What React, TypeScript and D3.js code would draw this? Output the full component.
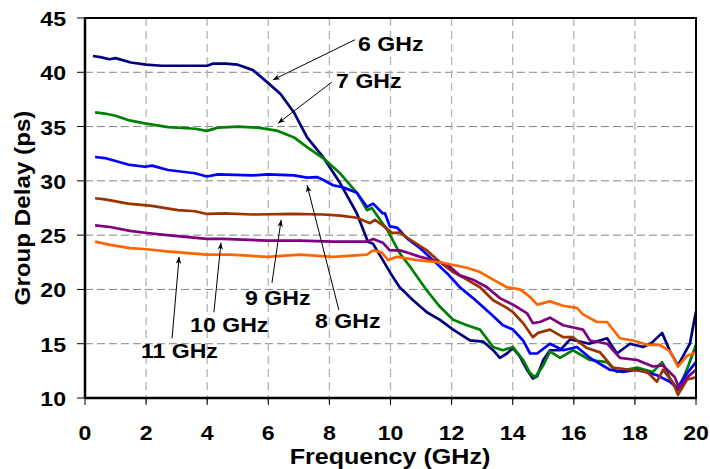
import React from "react";
import * as d3 from "d3";

// group delay traces, [frequency GHz, delay ps]
const f6: [number, number][] = [
  [0.26, 41.5], [0.5, 41.4], [0.8, 41.2], [1.0, 41.3], [1.5, 40.9], [2.0, 40.7], [2.5, 40.6], [3.0, 40.6],
  [3.5, 40.6], [4.0, 40.6], [4.2, 40.8], [4.6, 40.8], [5.0, 40.7], [5.5, 40.2], [6.0, 39.0], [6.4, 38.0],
  [6.84, 36.3], [7.27, 34.0], [7.79, 32.2], [8.35, 29.8], [8.9, 27.0], [9.26, 24.4], [9.43, 24.2], [9.75, 22.7],
  [10.0, 21.5], [10.3, 20.2], [10.74, 19.0], [11.19, 17.9], [11.62, 17.2], [12.05, 16.3], [12.6, 15.3], [13.03, 15.2],
  [13.36, 14.4], [13.58, 13.7], [13.81, 14.1], [14.01, 14.6], [14.24, 13.8], [14.47, 12.6], [14.66, 11.8], [14.8, 12.0],
  [15.0, 13.5], [15.22, 14.4], [15.55, 14.4], [15.88, 15.4], [16.2, 15.2], [16.5, 15.0], [17.09, 15.5], [17.41, 14.1],
  [17.84, 15.0], [18.27, 14.7], [18.56, 15.1], [18.89, 16.0], [19.15, 14.3], [19.41, 13.0], [19.8, 15.0], [20.0, 18.0],
];
const f7: [number, number][] = [
  [0.33, 36.3], [0.65, 36.2], [1.0, 36.0], [1.41, 35.6], [1.96, 35.3], [2.72, 34.95], [3.6, 34.8], [3.99, 34.6],
  [4.35, 34.9], [5.01, 35.0], [5.66, 34.9], [6.32, 34.6], [6.84, 34.0], [7.27, 33.1], [7.79, 32.1], [8.35, 30.7],
  [8.9, 28.9], [9.23, 27.3], [9.39, 27.5], [9.59, 26.7], [9.89, 25.5], [10.31, 23.3], [10.64, 22.1], [10.74, 21.7],
  [11.19, 19.9], [11.62, 18.4], [12.05, 17.2], [12.5, 16.7], [12.93, 16.3], [13.36, 14.7], [13.68, 14.4], [14.01, 14.7],
  [14.34, 13.5], [14.57, 12.3], [14.73, 11.9], [15.0, 13.0], [15.22, 14.3], [15.55, 13.7], [15.97, 14.4], [16.53, 13.5],
  [17.09, 13.3], [17.41, 12.4], [18.07, 12.8], [18.59, 12.4], [18.89, 13.3], [19.15, 11.8], [19.41, 10.7], [19.74, 12.9],
  [20.0, 14.9],
];
const f8: [number, number][] = [
  [0.33, 32.2], [0.65, 32.1], [1.41, 31.5], [1.96, 31.3], [2.19, 31.4], [2.72, 31.0], [3.6, 30.7], [3.99, 30.4],
  [4.35, 30.6], [5.47, 30.5], [5.99, 30.6], [6.84, 30.5], [7.27, 30.3], [7.59, 30.35], [7.79, 30.1], [8.12, 29.6],
  [8.45, 29.4], [8.9, 28.9], [9.23, 27.6], [9.43, 27.9], [9.75, 27.0], [9.82, 27.0], [9.98, 25.8], [10.21, 25.7],
  [10.54, 24.7], [10.97, 23.8], [11.39, 22.7], [11.85, 21.5], [12.27, 20.2], [12.7, 19.2], [13.26, 17.8], [13.68, 16.7],
  [14.01, 16.3], [14.34, 15.3], [14.57, 14.1], [14.8, 14.1], [15.22, 15.0], [15.65, 14.4], [16.1, 14.7], [16.53, 13.7],
  [17.18, 12.6], [17.61, 12.4], [18.07, 12.6], [18.72, 12.1], [19.15, 11.5], [19.38, 10.9], [19.71, 12.3], [20.0, 13.3],
];
const f9: [number, number][] = [
  [0.33, 28.4], [0.65, 28.3], [1.41, 27.9], [2.19, 27.7], [3.04, 27.3], [3.6, 27.2], [3.99, 26.95], [4.58, 27.0],
  [5.47, 26.9], [6.84, 26.95], [7.79, 26.9], [8.35, 26.8], [8.9, 26.6], [9.33, 26.1], [9.49, 26.4], [9.75, 25.9],
  [10.05, 25.2], [10.31, 25.2], [10.74, 24.4], [11.19, 23.6], [11.62, 22.5], [12.05, 21.6], [12.5, 20.9], [12.93, 20.2],
  [13.36, 19.0], [13.81, 18.3], [14.01, 17.9], [14.34, 16.9], [14.66, 15.6], [14.83, 16.0], [15.22, 16.3], [15.65, 15.6],
  [15.97, 15.6], [16.43, 14.6], [16.86, 14.2], [17.28, 12.8], [17.84, 12.6], [18.4, 12.4], [18.72, 11.5], [18.92, 12.6],
  [19.25, 11.4], [19.41, 10.3], [19.71, 11.7], [20.0, 11.9],
];
const f10: [number, number][] = [
  [0.33, 25.9], [0.82, 25.75], [1.47, 25.4], [2.03, 25.2], [2.68, 25.0], [3.99, 24.65], [4.52, 24.65], [5.96, 24.5],
  [7.04, 24.5], [8.12, 24.4], [9.23, 24.4], [9.43, 24.65], [9.75, 24.3], [9.98, 23.6], [10.31, 23.6], [10.54, 23.4],
  [10.97, 23.0], [11.39, 22.7], [11.85, 22.3], [12.27, 21.3], [12.7, 20.9], [13.16, 20.2], [13.58, 19.2], [14.01, 18.6],
  [14.47, 17.8], [14.66, 16.9], [14.89, 17.0], [15.22, 17.4], [15.65, 16.7], [16.3, 16.3], [16.53, 15.3], [17.09, 15.0],
  [17.51, 13.7], [18.07, 13.5], [18.59, 12.9], [18.92, 13.0], [19.31, 11.9], [19.44, 10.9], [19.71, 11.9], [20.0, 12.6],
];
const f11: [number, number][] = [
  [0.33, 24.4], [0.82, 24.1], [1.47, 23.8], [2.03, 23.7], [2.68, 23.5], [3.99, 23.2], [4.75, 23.2], [5.96, 23.0],
  [7.04, 23.2], [8.12, 23.0], [9.23, 23.2], [9.43, 23.6], [9.72, 23.4], [9.92, 22.7], [10.21, 23.0], [10.87, 22.7],
  [11.62, 22.5], [12.5, 22.0], [12.93, 21.6], [13.36, 20.9], [13.81, 20.2], [14.24, 20.0], [14.57, 19.3], [14.8, 18.6],
  [15.22, 18.9], [15.65, 18.5], [16.1, 18.3], [16.3, 17.7], [16.76, 17.0], [17.09, 17.0], [17.51, 15.5], [17.94, 15.3],
  [18.4, 14.9], [18.82, 14.9], [19.15, 14.3], [19.41, 12.9], [19.71, 13.9], [20.0, 14.2],
];

const seriesNames = ["6 GHz", "7 GHz", "8 GHz", "9 GHz", "10 GHz", "11 GHz"];
const seriesData = [f6, f7, f8, f9, f10, f11];
const seriesColors = ["#000080", "#008000", "#0000FF", "#993300", "#800080", "#FF6600"];

const xTicks = [0, 2, 4, 6, 8, 10, 12, 14, 16, 18, 20];
const yTicks = [10, 15, 20, 25, 30, 35, 40, 45];

// callouts in data units: label anchor, arrow tail, arrow tip
const labelPos: [number, number][] = [[8.94, 42.0], [8.22, 38.55], [7.53, 16.45], [5.24, 18.6], [3.44, 16.1], [1.83, 13.7]];
const arrowTail: [number, number][] = [[8.84, 43.0], [8.08, 39.1], [8.31, 18.1], [6.12, 20.6], [4.22, 17.9], [2.85, 15.5]];
const arrowTip: [number, number][] = [[6.15, 39.3], [6.32, 35.3], [7.27, 29.6], [6.42, 26.4], [4.45, 24.3], [3.08, 23.0]];

const W = 710;
const H = 469;
const m = { left: 85, right: 14, top: 18, bottom: 71 };
const font = "'Liberation Sans', Arial, sans-serif";

const x = d3.scaleLinear().domain([0, 20]).range([m.left, W - m.right]);
const y = d3.scaleLinear().domain([10, 45]).range([H - m.bottom, m.top]);

const line = d3
  .line<[number, number]>()
  .x((d) => x(d[0]))
  .y((d) => y(d[1]));

// the original text is a bit wider than Arial, so stretch it along its run
const Txt = ({ tx, ty, size, anchor, rot, sx = 1.1, children }: any) => (
  <text
    transform={`translate(${tx},${ty})${rot ? ` rotate(${rot})` : ""} scale(${sx},1)`}
    fontFamily={font}
    fontWeight="bold"
    fontSize={size}
    textAnchor={anchor || "start"}
    fill="#000"
  >
    {children}
  </text>
);

export default function App() {
  const [x0, x1] = x.range();
  const [y0, y1] = y.range();
  return (
    <svg width={W} height={H} style={{ position: "absolute", left: 0, top: 0, background: "#fff" }}>
      <defs>
        <marker id="ah" viewBox="0 0 10 10" refX="10" refY="5" markerWidth="9" markerHeight="7" orient="auto" markerUnits="userSpaceOnUse">
          <path d="M0,1 L10,5 L0,9 L3,5 Z" fill="#000" />
        </marker>
      </defs>
      <rect width={W} height={H} fill="#fff" />

      {/* grid */}
      {yTicks.slice(1, -1).map((t) => (
        <line key={"gy" + t} x1={x0} x2={x1} y1={y(t)} y2={y(t)} stroke="#858585" strokeWidth={1} strokeDasharray="8,4" />
      ))}
      {xTicks.slice(1, -1).map((t) => (
        <line key={"gx" + t} x1={x(t)} x2={x(t)} y1={y1} y2={y0 + 7} stroke="#b4b4b4" strokeWidth={1.3} strokeDasharray="8,5" />
      ))}

      {/* traces */}
      {seriesData.map((d, i) => (
        <path key={seriesNames[i]} d={line(d) || ""} fill="none" stroke={seriesColors[i]} strokeWidth={2.7} strokeLinejoin="round" />
      ))}

      {/* frame */}
      <rect x={x0} y={y1} width={x1 - x0} height={y0 - y1} fill="none" stroke="#000" strokeWidth={2} />
      <line x1={x0} x2={x1} y1={y0} y2={y0} stroke="#000" strokeWidth={2.5} />
      <line x1={x0} x2={x0} y1={y1} y2={y0} stroke="#000" strokeWidth={2.5} />

      {/* ticks */}
      {yTicks.map((t) => (
        <g key={"ty" + t}>
          <line x1={x0 - 8} x2={x0} y1={y(t)} y2={y(t)} stroke="#000" strokeWidth={1} />
          <Txt tx={x0 - 19} ty={y(t) + 8} size={21} anchor="end">{t}</Txt>
        </g>
      ))}
      {xTicks.map((t) => (
        <g key={"tx" + t}>
          <line x1={x(t)} x2={x(t)} y1={y0} y2={y0 + 7} stroke="#000" strokeWidth={1} />
          <Txt tx={x(t)} ty={440} size={21} anchor="middle">{t}</Txt>
        </g>
      ))}

      {/* axis titles */}
      <Txt tx={390} ty={464} size={22} sx={1.14} anchor="middle">Frequency (GHz)</Txt>
      <Txt tx={30} ty={(y0 + y1) / 2} size={22} sx={1.1} anchor="middle" rot={-90}>Group Delay (ps)</Txt>

      {/* callouts */}
      {seriesNames.map((n, i) => (
        <g key={"c" + n}>
          <line
            x1={x(arrowTail[i][0])}
            y1={y(arrowTail[i][1])}
            x2={x(arrowTip[i][0])}
            y2={y(arrowTip[i][1])}
            stroke="#000"
            strokeWidth={1}
            markerEnd="url(#ah)"
          />
          <Txt tx={x(labelPos[i][0])} ty={y(labelPos[i][1])} size={21}>{n}</Txt>
        </g>
      ))}
    </svg>
  );
}
